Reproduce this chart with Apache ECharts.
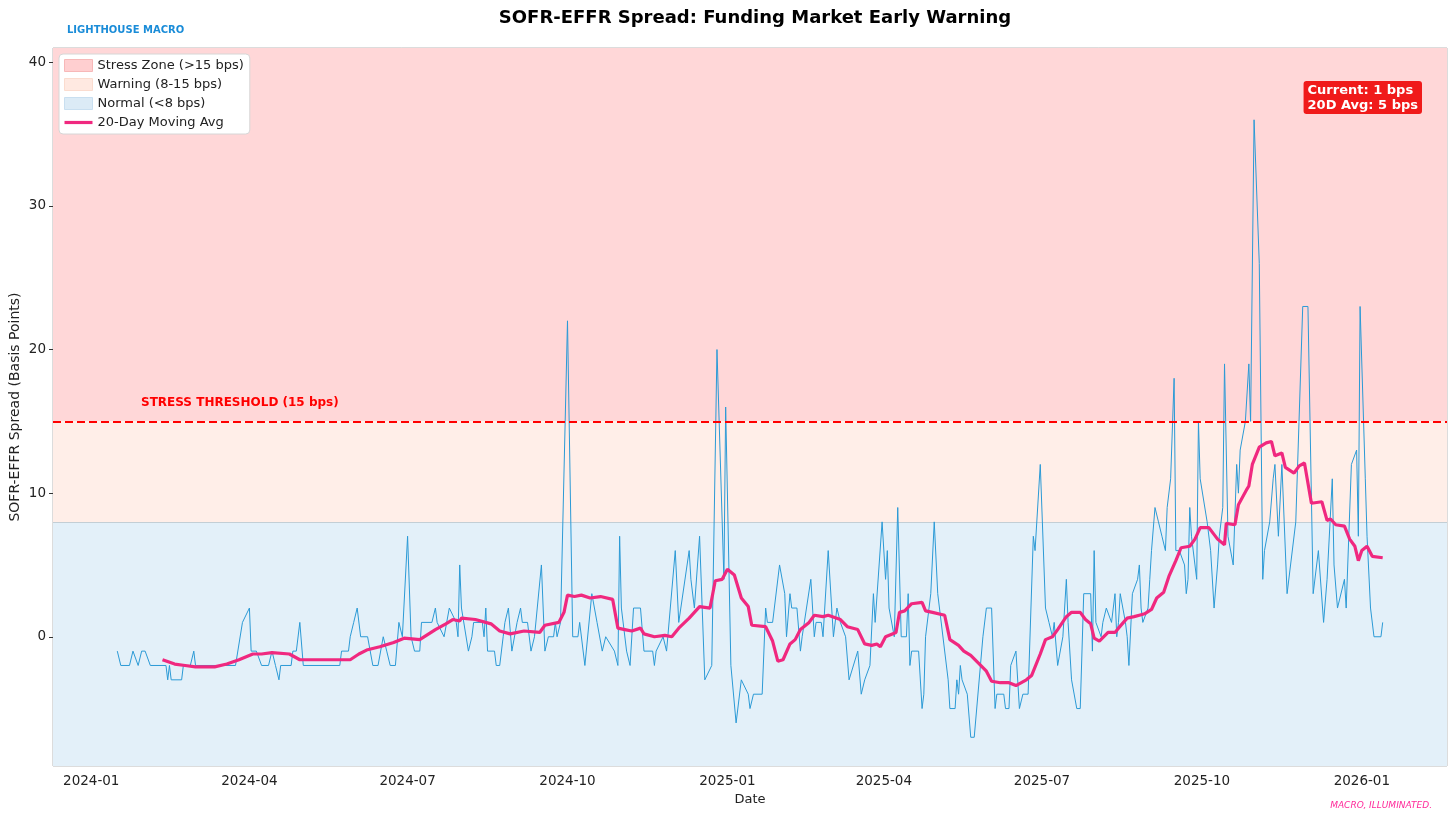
<!DOCTYPE html>
<html>
<head>
<meta charset="utf-8">
<title>SOFR-EFFR Spread</title>
<script src="https://cdn.jsdelivr.net/npm/echarts@6/dist/echarts.min.js"></script>
<style>
  html, body { margin: 0; padding: 0; background: #fff; }
  #main { width: 1456px; height: 840px; }
</style>
</head>
<body>
<div id="main"></div>
<script>
// daily spread, turning points (bps)
var spreadDates = [
  '2024-01-16','2024-01-18','2024-01-23','2024-01-25','2024-01-28','2024-01-30','2024-02-01','2024-02-04',
  '2024-02-13','2024-02-14','2024-02-15','2024-02-16','2024-02-22','2024-02-23','2024-02-27','2024-02-29',
  '2024-03-01','2024-03-24','2024-03-28','2024-04-01','2024-04-02','2024-04-05','2024-04-08','2024-04-12',
  '2024-04-14','2024-04-15','2024-04-16','2024-04-18','2024-04-19','2024-04-25','2024-04-26','2024-04-28',
  '2024-04-30','2024-05-02','2024-05-23','2024-05-24','2024-05-28','2024-05-29','2024-05-31','2024-06-02',
  '2024-06-04','2024-06-08','2024-06-11','2024-06-14','2024-06-17','2024-06-19','2024-06-21','2024-06-24',
  '2024-06-26','2024-06-27','2024-06-28','2024-07-01','2024-07-03','2024-07-05','2024-07-08','2024-07-09',
  '2024-07-15','2024-07-17','2024-07-18','2024-07-22','2024-07-25','2024-07-26','2024-07-29','2024-07-30',
  '2024-07-31','2024-08-01','2024-08-02','2024-08-05','2024-08-07','2024-08-08','2024-08-13','2024-08-14',
  '2024-08-15','2024-08-16','2024-08-20','2024-08-21','2024-08-23','2024-08-25','2024-08-26','2024-08-28',
  '2024-08-29','2024-08-30','2024-09-02','2024-09-04','2024-09-05','2024-09-08','2024-09-10','2024-09-12',
  '2024-09-16','2024-09-17','2024-09-18','2024-09-20','2024-09-23','2024-09-24','2024-09-25','2024-09-27',
  '2024-10-01','2024-10-04','2024-10-07','2024-10-08','2024-10-11','2024-10-15','2024-10-16','2024-10-18',
  '2024-10-21','2024-10-23','2024-10-24','2024-10-28','2024-10-30','2024-10-31','2024-11-01','2024-11-04',
  '2024-11-06','2024-11-08','2024-11-12','2024-11-14','2024-11-19','2024-11-20','2024-11-21','2024-11-25',
  '2024-11-26','2024-11-27','2024-12-02','2024-12-03','2024-12-04','2024-12-05','2024-12-10','2024-12-11',
  '2024-12-12','2024-12-13','2024-12-16','2024-12-19','2024-12-20','2024-12-23','2024-12-26','2024-12-30',
  '2024-12-31','2025-01-03','2025-01-06','2025-01-07','2025-01-09','2025-01-10','2025-01-13','2025-01-14',
  '2025-01-15','2025-01-16','2025-01-21','2025-01-23','2025-01-24','2025-01-27','2025-01-28','2025-01-29',
  '2025-01-31','2025-02-03','2025-02-04','2025-02-06','2025-02-07','2025-02-10','2025-02-12','2025-02-13',
  '2025-02-18','2025-02-20','2025-02-21','2025-02-24','2025-02-25','2025-02-26','2025-02-28','2025-03-03',
  '2025-03-04','2025-03-05','2025-03-07','2025-03-10','2025-03-12','2025-03-13','2025-03-17','2025-03-19',
  '2025-03-20','2025-03-21','2025-03-24','2025-03-26','2025-03-27','2025-03-31','2025-04-02','2025-04-03',
  '2025-04-04','2025-04-07','2025-04-09','2025-04-11','2025-04-14','2025-04-15','2025-04-16','2025-04-17',
  '2025-04-21','2025-04-23','2025-04-24','2025-04-25','2025-04-28','2025-04-29','2025-04-30','2025-05-02',
  '2025-05-08','2025-05-09','2025-05-12','2025-05-13','2025-05-14','2025-05-15','2025-05-16','2025-05-19',
  '2025-05-21','2025-05-23','2025-05-28','2025-05-30','2025-06-02','2025-06-04','2025-06-05','2025-06-09',
  '2025-06-10','2025-06-12','2025-06-13','2025-06-16','2025-06-18','2025-06-20','2025-06-23','2025-06-26',
  '2025-06-27','2025-06-30','2025-07-03','2025-07-05','2025-07-07','2025-07-08','2025-07-10','2025-07-11',
  '2025-07-13','2025-07-15','2025-07-16','2025-07-17','2025-07-18','2025-07-21','2025-07-23','2025-07-25',
  '2025-07-29','2025-07-30','2025-07-31','2025-08-01','2025-08-04','2025-08-05','2025-08-06','2025-08-07',
  '2025-08-10','2025-08-12','2025-08-13','2025-08-14','2025-08-15','2025-08-18','2025-08-19','2025-08-20',
  '2025-08-22','2025-08-25','2025-08-26','2025-08-27','2025-08-28','2025-08-29','2025-08-31','2025-09-01',
  '2025-09-02','2025-09-03','2025-09-04','2025-09-06','2025-09-08','2025-09-09','2025-09-10','2025-09-11',
  '2025-09-13','2025-09-15','2025-09-16','2025-09-18','2025-09-19','2025-09-21','2025-09-22','2025-09-23',
  '2025-09-24','2025-09-25','2025-09-27','2025-09-28','2025-09-29','2025-09-30','2025-10-01','2025-10-04',
  '2025-10-06','2025-10-08','2025-10-10','2025-10-11','2025-10-13','2025-10-14','2025-10-15','2025-10-16',
  '2025-10-19','2025-10-21','2025-10-22','2025-10-23','2025-10-24','2025-10-26','2025-10-28','2025-10-29',
  '2025-10-31','2025-11-03','2025-11-05','2025-11-06','2025-11-09','2025-11-11','2025-11-12','2025-11-13',
  '2025-11-14','2025-11-16','2025-11-19','2025-11-20','2025-11-24','2025-11-28','2025-12-01','2025-12-04',
  '2025-12-07','2025-12-10','2025-12-12','2025-12-15','2025-12-16','2025-12-17','2025-12-18','2025-12-19',
  '2025-12-22','2025-12-23','2025-12-24','2025-12-26','2025-12-29','2025-12-30','2025-12-31','2026-01-03',
  '2026-01-04','2026-01-06','2026-01-08','2026-01-12','2026-01-13'
];
var spreadValues = [
  -1,-2,-2,-1,-2,-1,-1,-2,
  -2,-3,-2,-3,-3,-2,-2,-1,
  -2,-2,1,2,-1,-1,-2,-2,
  -1,-1,-2,-3,-2,-2,-1,-1,
  1,-2,-2,-1,-1,0,1,2,
  0,0,-2,-2,0,-1,-2,-2,
  1,1,0,7,0,-1,-1,1,
  1,2,1,0,2,2,1,0,
  5,2,2,-1,0,1,1,0,
  2,-1,-1,-2,-2,0,1,2,
  2,-1,1,2,1,1,-1,0,
  5,5,-1,0,0,1,0,1,
  22,0,0,1,-2,3,3,1,
  -1,0,0,-1,-2,7,2,-1,
  -2,2,2,-1,-1,-2,-1,0,
  0,-1,6,6,1,1,6,4,
  4,2,7,-3,-3,-2,20,4,
  16,-2,-6,-6,-3,-3,-4,-5,
  -5,-4,-4,2,1,1,2,2,
  5,3,0,3,2,2,-1,0,
  4,0,1,1,0,0,6,0,
  0,2,1,0,-3,-3,-1,-4,
  -4,-3,-2,3,1,8,4,6,
  2,0,9,0,0,3,-2,-1,
  -1,-5,-4,0,3,3,8,3,
  -3,-5,-5,-3,-4,-2,-3,-4,
  -7,-7,0,2,2,-5,-4,-4,
  -5,-5,-2,-1,-5,-4,-4,7,
  6,12,2,1,0,1,-2,-2,
  0,4,1,1,-3,-5,-5,3,
  3,-1,6,1,0,1,1,2,
  1,3,0,1,3,1,0,-2,
  3,4,5,2,1,1,2,4,
  6,6,9,8,7,7,6,9,
  11,18,6,6,6,5,3,4,
  9,7,5,4,15,11,11,8,
  6,2,5,7,9,19,19,7,
  5,12,10,13,13,15,19,15,
  36,26,4,6,8,11,12,12,
  7,12,3,3,8,23,23,3,
  6,1,4,11,5,5,2,2,
  4,2,2,12,13,7,23,11,
  7,2,0,0,1
];

// 20-day moving average as drawn (bps)
var maDates = [
  '2024-02-11','2024-02-18','2024-02-24','2024-03-01','2024-03-12','2024-03-19','2024-03-26','2024-04-03',
  '2024-04-08','2024-04-14','2024-04-24','2024-04-30','2024-05-06','2024-05-20','2024-05-29','2024-06-03',
  '2024-06-08','2024-06-15','2024-06-23','2024-06-29','2024-07-08','2024-07-17','2024-07-23','2024-07-27',
  '2024-07-31','2024-08-01','2024-08-09','2024-08-18','2024-08-23','2024-08-29','2024-09-06','2024-09-15',
  '2024-09-18','2024-09-26','2024-09-29','2024-10-01','2024-10-05','2024-10-09','2024-10-14','2024-10-20',
  '2024-10-27','2024-10-30','2024-11-03','2024-11-07','2024-11-12','2024-11-14','2024-11-20','2024-11-26',
  '2024-11-30','2024-12-04','2024-12-10','2024-12-16','2024-12-22','2024-12-25','2024-12-29','2025-01-01',
  '2025-01-05','2025-01-09','2025-01-13','2025-01-15','2025-01-23','2025-01-27','2025-01-30','2025-02-02',
  '2025-02-06','2025-02-09','2025-02-12','2025-02-17','2025-02-20','2025-02-25','2025-02-28','2025-03-07',
  '2025-03-11','2025-03-17','2025-03-21','2025-03-25','2025-03-28','2025-03-30','2025-04-02','2025-04-08',
  '2025-04-10','2025-04-13','2025-04-17','2025-04-23','2025-04-25','2025-04-29','2025-04-30','2025-05-06',
  '2025-05-09','2025-05-14','2025-05-17','2025-05-21','2025-05-26','2025-05-30','2025-06-02','2025-06-07',
  '2025-06-12','2025-06-16','2025-06-22','2025-06-25','2025-06-30','2025-07-03','2025-07-07','2025-07-10',
  '2025-07-15','2025-07-18','2025-07-23','2025-07-26','2025-07-29','2025-07-31','2025-08-03','2025-08-08',
  '2025-08-12','2025-08-14','2025-08-19','2025-08-23','2025-08-26','2025-08-29','2025-09-02','2025-09-05',
  '2025-09-09','2025-09-12','2025-09-16','2025-09-19','2025-09-24','2025-09-27','2025-09-30','2025-10-05',
  '2025-10-10','2025-10-14','2025-10-15','2025-10-20','2025-10-22','2025-10-27','2025-10-28','2025-10-30',
  '2025-11-03','2025-11-07','2025-11-10','2025-11-12','2025-11-16','2025-11-18','2025-11-23','2025-11-26',
  '2025-11-29','2025-12-03','2025-12-09','2025-12-12','2025-12-14','2025-12-17','2025-12-22','2025-12-25',
  '2025-12-28','2025-12-30','2026-01-01','2026-01-04','2026-01-07','2026-01-13'
];
var maValues = [
  -1.6,-1.9,-2.0,-2.1,-2.1,-1.9,-1.6,-1.2,
  -1.2,-1.1,-1.2,-1.6,-1.6,-1.6,-1.6,-1.2,
  -0.9,-0.7,-0.4,-0.1,-0.2,0.5,0.9,1.2,
  1.1,1.3,1.2,0.9,0.4,0.2,0.4,0.3,
  0.8,1.0,1.7,2.9,2.8,2.9,2.7,2.8,
  2.6,0.6,0.5,0.4,0.6,0.2,0.0,0.1,
  0.0,0.6,1.3,2.1,2.0,3.9,4.0,4.7,
  4.3,2.7,2.1,0.8,0.7,-0.3,-1.7,-1.6,
  -0.5,-0.2,0.5,1.0,1.5,1.4,1.5,1.2,
  0.7,0.5,-0.5,-0.6,-0.5,-0.7,0.0,0.3,
  1.7,1.8,2.3,2.4,1.8,1.7,1.8,1.5,
  -0.2,-0.6,-1.0,-1.3,-1.9,-2.4,-3.1,-3.2,
  -3.2,-3.4,-3.0,-2.7,-1.2,-0.2,0.0,0.5,
  1.4,1.7,1.7,1.2,0.9,-0.1,-0.3,0.3,
  0.3,0.6,1.3,1.4,1.5,1.6,1.9,2.7,
  3.1,4.2,5.3,6.2,6.3,6.8,7.6,7.6,
  6.8,6.4,7.9,7.8,9.2,10.3,10.5,12.0,
  13.2,13.5,13.6,12.6,12.8,11.8,11.4,11.9,
  12.1,9.3,9.4,8.1,8.2,7.8,7.7,6.8,
  6.3,5.3,6.0,6.3,5.6,5.5
];

var xTickDates = ['2024-01-01','2024-04-01','2024-07-01','2024-10-01','2025-01-01',
                  '2025-04-01','2025-07-01','2025-10-01','2026-01-01'];
var yTicks = [0, 10, 20, 30, 40];

var stressLevel = 15;
var warningLevel = 8;
var currentBps = 1;
var avg20Bps = 5;

var font = 'DejaVu Sans';
var chart = echarts.init(document.getElementById('main'));

function toTime(s) {
    var p = s.split('-');
    return new Date(+p[0], +p[1] - 1, +p[2]).getTime();
}
function pairs(dates, vals) {
    return dates.map(function (d, i) { return [toTime(d), vals[i]]; });
}
function pad2(n) { return n < 10 ? '0' + n : '' + n; }

var xTicks = xTickDates.map(toTime);

chart.setOption({
    animation: false,
    textStyle: { fontFamily: font },
    title: {
        text: 'SOFR-EFFR Spread: Funding Market Early Warning',
        left: 750,
        top: 4,
        textAlign: 'center',
        textStyle: { fontSize: 18, fontWeight: 'bold', color: '#000', fontFamily: font }
    },
    grid: {
        left: 53, right: 9, top: 48, bottom: 74,
        outerBoundsMode: 'none',
        containLabel: false,
        show: true,
        borderColor: 'rgba(0,0,0,0.28)',
        borderWidth: 1,
        backgroundColor: 'transparent'
    },
    legend: {
        orient: 'vertical',
        left: 59,
        top: 54,
        padding: [5, 6, 5, 5],
        itemGap: 6,
        itemWidth: 28,
        itemHeight: 12,
        backgroundColor: '#fff',
        borderColor: '#d6d6d6',
        borderWidth: 1,
        borderRadius: 4,
        textStyle: { fontSize: 13, color: '#222', fontFamily: font },
        data: [
            { name: 'Stress Zone (>15 bps)', icon: 'rect', itemStyle: { color: '#ffcfd0', borderColor: '#f7b8b8', borderWidth: 1 } },
            { name: 'Warning (8-15 bps)', icon: 'rect', itemStyle: { color: '#ffe9e1', borderColor: '#fbdccf', borderWidth: 1 } },
            { name: 'Normal (<8 bps)', icon: 'rect', itemStyle: { color: '#dcebf6', borderColor: '#c9dff0', borderWidth: 1 } },
            { name: '20-Day Moving Avg', icon: 'path://M0,0L28,0L28,3.2L0,3.2Z', itemStyle: { color: '#f0287f', borderWidth: 0 } }
        ]
    },
    xAxis: {
        type: 'value',
        min: toTime('2023-12-10'),
        max: toTime('2026-02-19'),
        name: 'Date',
        nameLocation: 'middle',
        nameGap: 26,
        nameTextStyle: { fontSize: 13, color: '#222' },
        axisLine: { show: false },
        axisTick: { show: true, length: 4, lineStyle: { color: '#333' }, customValues: xTicks },
        axisLabel: {
            fontSize: 13.5, color: '#222', margin: 8,
            customValues: xTicks,
            formatter: function (v) {
                var d = new Date(v);
                return d.getFullYear() + '-' + pad2(d.getMonth() + 1);
            }
        },
        splitLine: { show: false }
    },
    yAxis: {
        type: 'value',
        min: -9,
        max: 41,
        name: 'SOFR-EFFR Spread (Basis Points)',
        nameLocation: 'middle',
        nameGap: 31,
        nameMoveOverlap: false,
        nameTextStyle: { fontSize: 14, color: '#222' },
        axisLine: { show: false },
        axisTick: { show: true, length: 4, lineStyle: { color: '#333' }, customValues: yTicks },
        axisLabel: { fontSize: 13.5, color: '#222', margin: 7, customValues: yTicks },
        splitLine: { show: false }
    },
    series: [
        {
            name: 'Stress Zone (>15 bps)', type: 'line', data: [], z: 1, silent: true,
            itemStyle: { color: '#ffcfd0' },
            markArea: { silent: true, itemStyle: { color: '#ffd7d8' },
                data: [[{ yAxis: stressLevel }, { yAxis: 41 }]] }
        },
        {
            name: 'Warning (8-15 bps)', type: 'line', data: [], z: 1, silent: true,
            itemStyle: { color: '#ffe9e1' },
            markArea: { silent: true, itemStyle: { color: '#ffeee8' },
                data: [[{ yAxis: warningLevel }, { yAxis: stressLevel }]] }
        },
        {
            name: 'Normal (<8 bps)', type: 'line', data: [], z: 1, silent: true,
            itemStyle: { color: '#dcebf6' },
            markArea: { silent: true, itemStyle: { color: '#e3f0f9' },
                data: [[{ yAxis: -9 }, { yAxis: warningLevel }]] }
        },
        {
            name: 'SOFR-EFFR Spread', type: 'line', z: 3, silent: true,
            symbol: 'none',
            lineStyle: { color: '#2b9ad6', width: 1 },
            itemStyle: { color: '#2b9ad6' },
            data: pairs(spreadDates, spreadValues),
            markLine: {
                silent: true, symbol: 'none', z: 2,
                lineStyle: { color: 'rgba(0,0,0,0.14)', width: 1, type: 'solid' },
                label: { show: false },
                data: [{ yAxis: warningLevel }]
            }
        },
        {
            name: '20-Day Moving Avg', type: 'line', z: 4, silent: true,
            symbol: 'none',
            lineStyle: { color: '#f0287f', width: 3.2 },
            itemStyle: { color: '#f0287f' },
            data: pairs(maDates, maValues),
            markLine: {
                silent: true, symbol: 'none',
                lineStyle: { color: '#ff0000', width: 2, type: [8, 4] },
                label: { show: false },
                data: [{ yAxis: stressLevel }]
            }
        }
    ],
    graphic: [
        {
            type: 'text', left: 67, top: 25, z: 100,
            style: { text: 'LIGHTHOUSE MACRO', fill: '#1a8cd8', font: 'bold 10px "DejaVu Sans"' }
        },
        {
            type: 'text', left: 141, top: 397, z: 100,
            style: { text: 'STRESS THRESHOLD (' + stressLevel + ' bps)', fill: '#ff0000', font: 'bold 12px "DejaVu Sans"' }
        },
        {
            type: 'text', right: 34, top: 81, z: 100,
            style: {
                text: 'Current: ' + currentBps + ' bps\n20D Avg: ' + avg20Bps + ' bps',
                fill: '#fff', font: 'bold 13px "DejaVu Sans"', align: 'right',
                lineHeight: 15,
                backgroundColor: '#f01a1a', padding: [2, 4, 1, 4], borderRadius: 3
            }
        },
        {
            type: 'text', right: 24, top: 801, z: 100,
            style: { text: 'MACRO, ILLUMINATED.', fill: '#ff2a9a', font: 'italic 9px "DejaVu Sans"' }
        }
    ]
});
</script>
</body>
</html>
